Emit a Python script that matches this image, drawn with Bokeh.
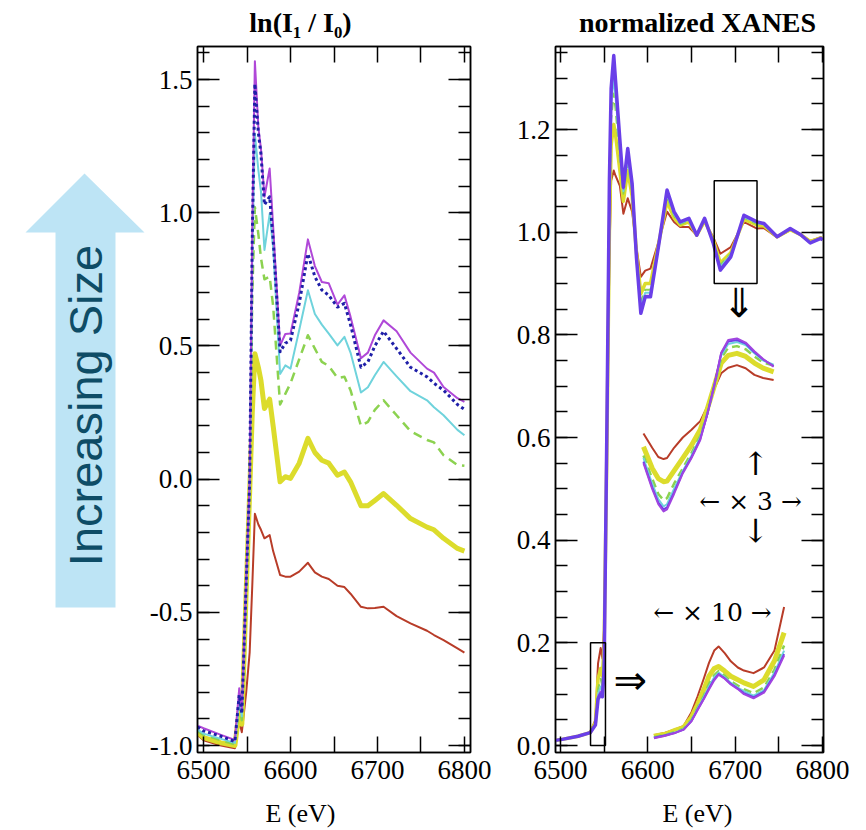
import math
from bokeh.plotting import figure
from bokeh.models import Range1d, LinearAxis, FixedTicker, CustomJSTickFormatter
from bokeh.layouts import row, column
from bokeh.embed import file_html
from bokeh.resources import INLINE
from bokeh.core.properties import value

# ---------------- data: left panel, ln(I1/I0) ----------------
E_L = [6493, 6500, 6520, 6536, 6541, 6544, 6549, 6553, 6556, 6559,
       6563, 6566, 6570, 6576, 6580, 6588, 6594, 6600, 6610, 6620,
       6628, 6636, 6644, 6654, 6662, 6669, 6681, 6689, 6697, 6707,
       6722, 6738, 6757, 6765, 6776, 6792, 6800]
L_MAG = [-0.925, -0.935, -0.960, -0.979, -0.785, -0.866, -0.380, 0.000, 0.950, 1.569,
         1.320, 1.240, 1.060, 1.166, 0.950, 0.502, 0.545, 0.547, 0.700, 0.900,
         0.800, 0.740, 0.735, 0.655, 0.690, 0.610, 0.454, 0.475, 0.540, 0.596,
         0.555, 0.475, 0.415, 0.400, 0.346, 0.304, 0.290]
L_BLUE = [-0.930, -0.945, -0.965, -0.985, -0.810, -0.880, -0.390, -0.010, 0.900, 1.484,
          1.300, 1.220, 1.030, 1.060, 0.900, 0.478, 0.510, 0.521, 0.660, 0.846,
          0.760, 0.710, 0.690, 0.646, 0.660, 0.580, 0.420, 0.440, 0.500, 0.555,
          0.490, 0.420, 0.384, 0.360, 0.334, 0.280, 0.262]
L_CYAN = [-0.940, -0.955, -0.975, -0.990, -0.830, -0.890, -0.400, -0.020, 0.850, 1.296,
          1.160, 1.080, 0.860, 0.996, 0.870, 0.395, 0.427, 0.415, 0.560, 0.709,
          0.620, 0.580, 0.546, 0.502, 0.534, 0.475, 0.325, 0.345, 0.390, 0.440,
          0.386, 0.330, 0.296, 0.270, 0.240, 0.185, 0.165]
L_GREEN = [-0.945, -0.960, -0.980, -0.995, -0.850, -0.905, -0.410, -0.030, 0.700, 1.021,
           0.920, 0.830, 0.750, 0.760, 0.650, 0.280, 0.320, 0.360, 0.450, 0.540,
           0.490, 0.440, 0.425, 0.380, 0.384, 0.334, 0.200, 0.215, 0.260, 0.296,
           0.240, 0.180, 0.147, 0.138, 0.090, 0.053, 0.050]
L_YEL = [-0.950, -0.970, -0.990, -1.000, -0.870, -0.920, -0.420, -0.050, 0.250, 0.471,
         0.420, 0.370, 0.265, 0.300, 0.200, -0.010, 0.009, 0.003, 0.060, 0.153,
         0.100, 0.071, 0.060, 0.015, 0.027, -0.010, -0.100, -0.100, -0.080, -0.054,
         -0.098, -0.148, -0.180, -0.190, -0.222, -0.260, -0.270]
L_RED = [-0.960, -0.980, -1.000, -1.010, -0.910, -0.950, -0.800, -0.650, -0.400, -0.130,
         -0.170, -0.190, -0.222, -0.210, -0.270, -0.360, -0.366, -0.366, -0.347, -0.314,
         -0.350, -0.366, -0.375, -0.400, -0.405, -0.430, -0.479, -0.485, -0.484, -0.479,
         -0.514, -0.541, -0.569, -0.585, -0.604, -0.635, -0.651]

# ---------------- data: right panel, normalized XANES ----------------
E_R = [6494, 6502, 6520, 6534, 6540, 6543, 6546, 6548, 6550, 6553,
       6556, 6558, 6561, 6563, 6568, 6572, 6577, 6582, 6587, 6592,
       6597, 6603, 6612, 6622, 6630, 6637, 6647, 6656, 6665, 6675,
       6683, 6695, 6710, 6725, 6733, 6748, 6763, 6775, 6786, 6798, 6800]
R_VIO = [0.010, 0.012, 0.018, 0.025, 0.040, 0.090, 0.100, 0.095, 0.150, 0.600,
         1.100, 1.280, 1.344, 1.296, 1.180, 1.088, 1.163, 1.095, 0.950, 0.842,
         0.874, 0.874, 0.970, 1.082, 1.040, 1.020, 1.027, 0.994, 1.027, 0.978,
         0.926, 0.952, 1.033, 1.020, 1.017, 0.991, 1.007, 0.995, 0.979, 0.988, 0.985]
R_MAG = [0.010, 0.012, 0.018, 0.025, 0.040, 0.095, 0.105, 0.100, 0.160, 0.590,
         1.090, 1.270, 1.335, 1.290, 1.175, 1.085, 1.158, 1.090, 0.948, 0.845,
         0.876, 0.876, 0.970, 1.080, 1.040, 1.020, 1.026, 0.994, 1.026, 0.978,
         0.928, 0.953, 1.032, 1.020, 1.016, 0.991, 1.006, 0.995, 0.979, 0.988, 0.985]
R_CYAN = [0.010, 0.012, 0.018, 0.025, 0.040, 0.100, 0.115, 0.105, 0.170, 0.580,
          1.070, 1.250, 1.300, 1.265, 1.160, 1.080, 1.145, 1.085, 0.950, 0.855,
          0.882, 0.882, 0.970, 1.075, 1.035, 1.018, 1.024, 0.994, 1.025, 0.980,
          0.932, 0.956, 1.030, 1.018, 1.015, 0.991, 1.006, 0.995, 0.980, 0.988, 0.985]
R_GREEN = [0.010, 0.012, 0.018, 0.025, 0.042, 0.110, 0.130, 0.115, 0.180, 0.570,
           1.050, 1.220, 1.270, 1.240, 1.145, 1.075, 1.135, 1.080, 0.955, 0.865,
           0.888, 0.888, 0.972, 1.070, 1.032, 1.016, 1.022, 0.994, 1.024, 0.982,
           0.936, 0.958, 1.028, 1.016, 1.014, 0.991, 1.006, 0.995, 0.980, 0.988, 0.985]
R_YEL = [0.010, 0.012, 0.018, 0.025, 0.045, 0.130, 0.150, 0.135, 0.200, 0.560,
         1.000, 1.170, 1.210, 1.190, 1.120, 1.060, 1.120, 1.070, 0.960, 0.880,
         0.900, 0.900, 0.975, 1.060, 1.028, 1.014, 1.020, 0.994, 1.022, 0.985,
         0.940, 0.960, 1.025, 1.014, 1.012, 0.991, 1.005, 0.995, 0.982, 0.989, 0.986]
R_RED = [0.010, 0.012, 0.018, 0.026, 0.050, 0.160, 0.190, 0.170, 0.230, 0.550,
         0.950, 1.100, 1.120, 1.110, 1.090, 1.036, 1.066, 1.040, 0.970, 0.913,
         0.925, 0.929, 0.980, 1.040, 1.020, 1.010, 1.010, 0.994, 1.020, 0.990,
         0.958, 0.971, 1.020, 1.007, 1.008, 0.990, 1.004, 0.995, 0.983, 0.990, 0.987]

# inset "x3" (magnified view of the boxed region, drawn in panel coordinates)
E_X3 = [6595, 6605, 6612, 6618, 6622, 6630, 6640, 6650, 6660, 6668,
        6676, 6684, 6692, 6702, 6712, 6722, 6732, 6744]
X3_MAG = [0.550, 0.500, 0.470, 0.456, 0.460, 0.490, 0.530, 0.560, 0.595, 0.645,
          0.700, 0.765, 0.790, 0.793, 0.785, 0.768, 0.753, 0.738]
X3_VIO = [0.553, 0.503, 0.473, 0.460, 0.464, 0.493, 0.532, 0.562, 0.597, 0.645,
          0.702, 0.764, 0.787, 0.790, 0.783, 0.766, 0.752, 0.739]
X3_CYAN = [0.560, 0.510, 0.480, 0.466, 0.470, 0.500, 0.535, 0.565, 0.600, 0.645,
           0.700, 0.760, 0.782, 0.786, 0.780, 0.764, 0.750, 0.742]
X3_GREEN = [0.565, 0.520, 0.490, 0.478, 0.482, 0.510, 0.540, 0.570, 0.603, 0.646,
            0.700, 0.755, 0.775, 0.778, 0.772, 0.758, 0.746, 0.740]
X3_YEL = [0.582, 0.540, 0.520, 0.514, 0.515, 0.535, 0.560, 0.585, 0.615, 0.655,
          0.700, 0.745, 0.760, 0.764, 0.758, 0.745, 0.735, 0.728]
X3_RED = [0.608, 0.580, 0.562, 0.558, 0.560, 0.580, 0.600, 0.615, 0.632, 0.660,
          0.695, 0.725, 0.736, 0.741, 0.735, 0.722, 0.716, 0.712]

# inset "x10" (magnified pre-edge)
E_X10 = [6607, 6620, 6632, 6641, 6650, 6657, 6664, 6670, 6676, 6681,
         6688, 6695, 6703, 6710, 6721, 6733, 6745, 6756]
X10_MAG = [0.014, 0.019, 0.025, 0.031, 0.047, 0.069, 0.090, 0.109, 0.127, 0.138,
           0.130, 0.119, 0.110, 0.100, 0.092, 0.103, 0.135, 0.175]
X10_VIO = [0.015, 0.020, 0.025, 0.031, 0.048, 0.070, 0.091, 0.111, 0.129, 0.139,
           0.131, 0.120, 0.111, 0.102, 0.094, 0.105, 0.138, 0.178]
X10_CYAN = [0.015, 0.020, 0.026, 0.032, 0.049, 0.072, 0.094, 0.115, 0.133, 0.142,
            0.133, 0.122, 0.113, 0.106, 0.097, 0.108, 0.142, 0.185]
X10_GREEN = [0.016, 0.021, 0.027, 0.033, 0.050, 0.074, 0.097, 0.120, 0.137, 0.145,
             0.136, 0.125, 0.117, 0.110, 0.102, 0.113, 0.148, 0.195]
X10_YEL = [0.018, 0.022, 0.030, 0.035, 0.055, 0.080, 0.108, 0.135, 0.150, 0.154,
           0.145, 0.135, 0.128, 0.122, 0.115, 0.128, 0.165, 0.220]
X10_RED = [0.020, 0.025, 0.032, 0.038, 0.065, 0.096, 0.130, 0.161, 0.185, 0.193,
           0.180, 0.164, 0.152, 0.146, 0.141, 0.152, 0.185, 0.270]

# ---------------- ticks / texts ----------------
X_TICKS = [6500, 6600, 6700, 6800]
X_MINOR = [6550, 6650, 6750]
LY_TICKS = [-1.0, -0.5, 0.0, 0.5, 1.0, 1.5]
LY_MINOR = [-1.0, -0.9, -0.8, -0.7, -0.6, -0.5, -0.4, -0.3, -0.2, -0.1, 0.0,
            0.1, 0.2, 0.3, 0.4, 0.5, 0.6, 0.7, 0.8, 0.9, 1.0, 1.1, 1.2, 1.3, 1.4, 1.5, 1.6]
RY_TICKS = [0.0, 0.2, 0.4, 0.6, 0.8, 1.0, 1.2]
RY_MINOR = [0.0, 0.05, 0.1, 0.15, 0.2, 0.25, 0.3, 0.35, 0.4, 0.45, 0.5, 0.55, 0.6,
            0.65, 0.7, 0.75, 0.8, 0.85, 0.9, 0.95, 1.0, 1.05, 1.1, 1.15, 1.2, 1.25, 1.3, 1.35]
TITLES = ["ln(I\u2081 / I\u2080)", "normalized XANES"]
XLABEL = "E (eV)"

for arr in [L_MAG, L_BLUE, L_CYAN, L_GREEN, L_YEL, L_RED]:
    assert len(arr) == len(E_L)
for arr in [R_VIO, R_MAG, R_CYAN, R_GREEN, R_YEL, R_RED]:
    assert len(arr) == len(E_R)
for arr in [X3_MAG, X3_VIO, X3_CYAN, X3_GREEN, X3_YEL, X3_RED]:
    assert len(arr) == len(E_X3)
for arr in [X10_MAG, X10_VIO, X10_CYAN, X10_GREEN, X10_YEL, X10_RED]:
    assert len(arr) == len(E_X10)

C_MAG = "#b048d8"
C_NAVY = "#1f1fa8"
C_CYAN = "#6fd3dc"
C_GREEN = "#8cd250"
C_YEL = "#dcdc2c"
C_RED = "#b83c28"
C_VIO = "#6a3fe8"
C_PUR = "#a044e0"

SERIF = "Liberation Serif"
W_A, W_L, W_R = 145, 365, 348
W = W_A + W_L + W_R          # 858
H_TOP = 40                   # title strip
MB_TOP = 6                   # frame top at 46 px
FRAME_H = 706                # frame bottom at 752 px
MB_BOT = 44
H_MID = MB_TOP + FRAME_H + MB_BOT   # 756
H_BOT = 830 - H_TOP - H_MID         # 34
TICK_FS = "27px"


def bare(width, height, xr, yr, mbt=0, mbb=0):
    f = figure(width=width, height=height, x_range=Range1d(*xr), y_range=Range1d(*yr),
               x_axis_location=None, y_axis_location=None, title_location=None,
               output_backend="svg", toolbar_location=None,
               min_border_left=0, min_border_right=0, min_border_top=mbt, min_border_bottom=mbb)
    f.outline_line_color = None
    f.grid.visible = False
    f.background_fill_color = "white"
    f.border_fill_color = "white"
    return f


def style_axis(ax, t_in, m_in, labels, fmt):
    ax.axis_line_color = "black"
    ax.axis_line_width = 1.5
    ax.major_tick_line_color = "black"
    ax.major_tick_line_width = 1.5
    ax.minor_tick_line_color = "black"
    ax.minor_tick_line_width = 1.5
    ax.major_tick_in = t_in
    ax.major_tick_out = 0
    ax.minor_tick_in = m_in
    ax.minor_tick_out = 0
    ax.major_label_text_font = SERIF
    ax.major_label_text_color = "black"
    if labels:
        ax.formatter = CustomJSTickFormatter(code=fmt)
        ax.major_label_text_font_size = TICK_FS
        ax.major_label_standoff = 5
    else:
        ax.formatter = CustomJSTickFormatter(code="return ''")
        ax.major_label_text_font_size = "0px"
        ax.major_label_standoff = 0


def make_panel(w, xr, yr, mbl, mbr, yt, ym, y_in, ym_in):
    p = figure(width=w, height=H_MID, x_range=Range1d(*xr), y_range=Range1d(*yr),
               x_axis_location=None, y_axis_location=None, title_location=None,
               output_backend="svg", toolbar_location=None,
               min_border_left=mbl, min_border_right=mbr,
               min_border_top=MB_TOP, min_border_bottom=MB_BOT)
    p.outline_line_color = "black"
    p.outline_line_width = 1.5
    p.background_fill_color = "white"
    p.border_fill_color = "white"
    p.grid.visible = False
    for loc in ["below", "above"]:
        ax = LinearAxis(ticker=FixedTicker(ticks=X_TICKS, minor_ticks=X_MINOR))
        style_axis(ax, 16, 16, loc == "below", "return tick.toFixed(0)")
        if loc == "below":
            ax.major_label_standoff = 8
        p.add_layout(ax, loc)
    for loc in ["left", "right"]:
        ax = LinearAxis(ticker=FixedTicker(ticks=yt, minor_ticks=ym))
        style_axis(ax, y_in, ym_in, loc == "left", "return tick.toFixed(1)")
        p.add_layout(ax, loc)
    return p


# ---------------- title strip (page px) ----------------
pt = bare(W, H_TOP, (0, W), (H_TOP, 0))
pt.text(x=[300, 697], y=[22, 22], text=TITLES, text_align="center", text_baseline="middle",
        text_font=value(SERIF), text_font_style="bold", text_font_size="28px",
        text_color="black")

# ---------------- arrow column (frame aligned with the panels; data = page px) ----------------
pa = bare(W_A, H_MID, (0, W_A), (752, 46), MB_TOP, MB_BOT)
pa.patch([84, 25, 55, 55, 115, 115, 144], [173, 232, 232, 607, 607, 232, 232],
         fill_color="#bde4f5", line_color=None)
pa.text(x=[85], y=[405], text=["Increasing Size"], angle=math.pi / 2,
        text_align="center", text_baseline="middle",
        text_font=value("Liberation Sans"), text_font_size="47px", text_color="#0e4c66")

# ---------------- left panel ----------------
pl = make_panel(W_L, (6493, 6807), (-1.026, 1.624), 52, 40,
                LY_TICKS, LY_MINOR, 22, 12)
pl.line(E_L, L_RED, line_color=C_RED, line_width=2, line_join="round")
pl.line(E_L, L_YEL, line_color=C_YEL, line_width=5, line_join="round")
pl.line(E_L, L_GREEN, line_color=C_GREEN, line_width=2.5, line_dash="9 6", line_join="round")
pl.line(E_L, L_CYAN, line_color=C_CYAN, line_width=2, line_join="round")
pl.line(E_L, L_MAG, line_color=C_MAG, line_width=2, line_join="round")
pl.line(E_L, L_BLUE, line_color=C_NAVY, line_width=3, line_dash="3 3", line_join="round")

# ---------------- right panel ----------------
pr = make_panel(W_R, (6494.3, 6801.1), (-0.0136, 1.3617), 45, 35,
                RY_TICKS, RY_MINOR, 22, 12)
pr.line(E_R, R_RED, line_color=C_RED, line_width=2, line_join="round")
pr.line(E_R, R_YEL, line_color=C_YEL, line_width=3.5, line_join="round")
pr.line(E_R, R_GREEN, line_color=C_GREEN, line_width=2, line_dash="8 5", line_join="round")
pr.line(E_R, R_CYAN, line_color=C_CYAN, line_width=2, line_join="round")
pr.line(E_R, R_MAG, line_color=C_PUR, line_width=2, line_join="round")
pr.line(E_R, R_VIO, line_color=C_VIO, line_width=3.5, line_join="round")

for ex, ys in [(E_X3, [X3_RED, X3_YEL, X3_GREEN, X3_CYAN, X3_VIO, X3_MAG]),
               (E_X10, [X10_RED, X10_YEL, X10_GREEN, X10_CYAN, X10_VIO, X10_MAG])]:
    pr.line(ex, ys[0], line_color=C_RED, line_width=2, line_join="round")
    pr.line(ex, ys[1], line_color=C_YEL, line_width=5, line_join="round")
    pr.line(ex, ys[2], line_color=C_GREEN, line_width=2.5, line_dash="8 5", line_join="round")
    pr.line(ex, ys[3], line_color=C_CYAN, line_width=2, line_join="round")
    pr.line(ex, ys[4], line_color=C_VIO, line_width=2, line_join="round")
    pr.line(ex, ys[5], line_color=C_PUR, line_width=2, line_join="round")

# zoom boxes
pr.quad(left=[6676, 6534.4], right=[6725, 6551.5], bottom=[0.90, 0.0], top=[1.10, 0.2],
        fill_color=None, line_color="black", line_width=1.5)

DV = "DejaVu Serif"
pr.text(x=[6704], y=[0.862], text=["\u21d3"], text_align="center", text_baseline="middle",
        text_font=value("DejaVu Sans"), text_font_size="40px", text_color="black")
pr.text(x=[6580], y=[0.128], text=["\u21d2"], text_align="center", text_baseline="middle",
        text_font=value("DejaVu Sans"), text_font_size="40px", text_color="black")
pr.text(x=[6723.3, 6723.3], y=[0.548, 0.418], text=["\u2191", "\u2193"],
        text_align="center", text_baseline="middle",
        text_font=value(DV), text_font_size="32px", text_color="black")
pr.text(x=[6717.6], y=[0.475], text=["\u2190 \u00d7 3 \u2192"], text_align="center",
        text_baseline="middle", text_font=value(DV), text_font_size="25px", text_color="black")
pr.text(x=[6674], y=[0.259], text=["\u2190 \u00d7 10 \u2192"], text_align="center",
        text_baseline="middle", text_font=value(DV), text_font_size="25px", text_color="black")

# ---------------- x-label strip (page px, offset by its top) ----------------
pb = bare(W, H_BOT, (0, W), (H_BOT, 0))
pb.text(x=[300, 697], y=[17, 17], text=[XLABEL, XLABEL], text_align="center",
        text_baseline="middle", text_font=value(SERIF), text_font_size="26px",
        text_color="black")

layout = column(pt, row(pa, pl, pr), pb)
open("out.html", "w").write(file_html(layout, INLINE))
